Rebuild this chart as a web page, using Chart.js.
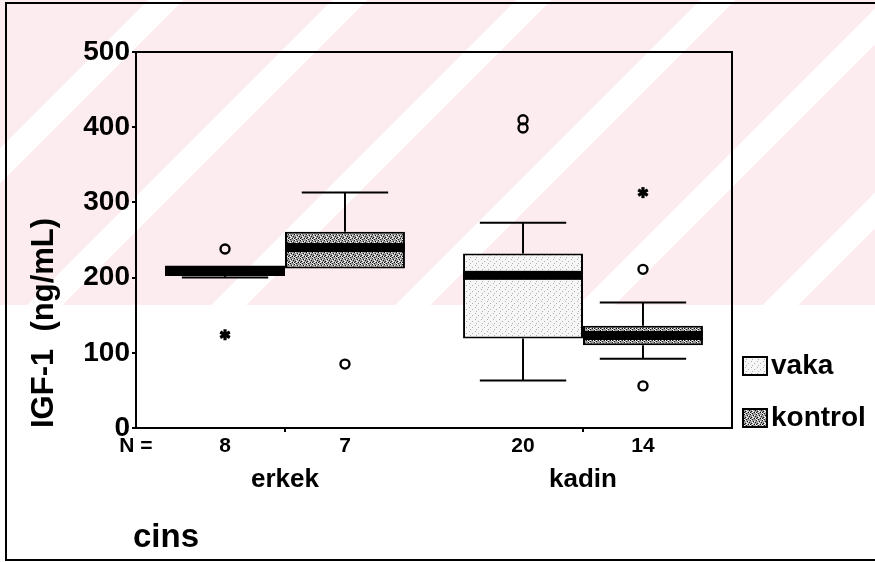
<!DOCTYPE html>
<html>
<head>
<meta charset="utf-8">
<script src="https://cdn.jsdelivr.net/npm/chart.js@4.4.1/dist/chart.umd.min.js"></script>
<style>
  body { margin: 0; background: #fff; }
  #wrap { position: relative; width: 875px; height: 562px; overflow: hidden; }
  #mark { position: absolute; left: 0; top: 0; width: 875px; height: 305px;
    background: repeating-linear-gradient(135deg, #fdecef 0 105px, #ffffff 105px 130px); }
  #frame { position: absolute; left: 5px; top: 2px; width: 900px; height: 559px;
    box-sizing: border-box; border: 2px solid #000; border-right: none; }
  #chart { position: absolute; left: 0; top: 0; }
</style>
</head>
<body>
<div id="wrap">
  <div id="mark"></div>
  <div id="frame"></div>
  <canvas id="chart" width="875" height="562"></canvas>
</div>
<script>
const groups = ['erkek', 'kadin'];
const seriesNames = ['vaka', 'kontrol'];
const yTicks = [0, 100, 200, 300, 400, 500];

// box plot values per group (erkek, kadin)
const vakaN = [8, 20];
const vakaLow = [200, 63];
const vakaQ1 = [202, 119];
const vakaMedian = [209, 203];
const vakaQ3 = [216, 232];
const vakaHigh = [216, 273];
const vakaOutliers = [[238], [399, 410]];
const vakaExtremes = [[124], []];

const kontrolN = [7, 14];
const kontrolLow = [212, 92];
const kontrolQ1 = [212, 110];
const kontrolMedian = [240, 123];
const kontrolQ3 = [261, 136];
const kontrolHigh = [313, 167];
const kontrolOutliers = [[85], [211, 56]];
const kontrolExtremes = [[], [313]];

const series = [
  { n: vakaN, low: vakaLow, q1: vakaQ1, med: vakaMedian, q3: vakaQ3, high: vakaHigh, out: vakaOutliers, ext: vakaExtremes },
  { n: kontrolN, low: kontrolLow, q1: kontrolQ1, med: kontrolMedian, q3: kontrolQ3, high: kontrolHigh, out: kontrolOutliers, ext: kontrolExtremes }
];

const FONT = '"Liberation Sans", Arial, sans-serif';
const canvas = document.getElementById('chart');
const ctx0 = canvas.getContext('2d');

function stipple(base, dot, dots, light, lights) {
  const c = document.createElement('canvas');
  c.width = 6; c.height = 6;
  const g = c.getContext('2d');
  g.fillStyle = base;
  g.fillRect(0, 0, 6, 6);
  g.fillStyle = dot;
  dots.forEach(([x, y]) => g.fillRect(x, y, 1, 1));
  g.fillStyle = light;
  lights.forEach(([x, y]) => g.fillRect(x, y, 1, 1));
  return ctx0.createPattern(c, 'repeat');
}

const vakaFill = stipple('#f6f6f6', '#b0b0b0', [[1, 1], [4, 3], [2, 5]], '#fff', []);
const kontrolFill = stipple('#9c9c9c', '#111', [[0, 0], [3, 1], [1, 3], [4, 4], [5, 2], [2, 5], [0, 4]],
  '#fff', [[1, 0], [4, 1], [2, 2], [5, 4], [0, 5], [3, 3], [2, 4]]);
const fills = [vakaFill, kontrolFill];

function line(ctx, x1, y1, x2, y2) {
  ctx.beginPath();
  ctx.moveTo(x1, y1);
  ctx.lineTo(x2, y2);
  ctx.stroke();
}

function star(ctx, x, y, r) {
  for (let k = 0; k < 3; k++) {
    const a = Math.PI / 2 + k * Math.PI / 3;
    line(ctx, x - r * Math.cos(a), y - r * Math.sin(a), x + r * Math.cos(a), y + r * Math.sin(a));
  }
}

const boxPlugin = {
  id: 'boxes',
  afterDatasetsDraw(chart) {
    const { ctx } = chart;
    const y = chart.scales.y;
    ctx.save();
    ctx.strokeStyle = '#000';
    ctx.fillStyle = '#000';
    series.forEach((s, di) => {
      chart.getDatasetMeta(di).data.forEach((bar, i) => {
        const cx = bar.x;
        const w = bar.width;
        const cap = w * 0.36;
        ctx.lineWidth = 2;
        if (s.high[i] > s.q3[i]) {
          const hy = y.getPixelForValue(s.high[i]);
          line(ctx, cx, y.getPixelForValue(s.q3[i]), cx, hy);
          line(ctx, cx - cap, hy, cx + cap, hy);
        }
        if (s.low[i] < s.q1[i]) {
          const ly = y.getPixelForValue(s.low[i]);
          line(ctx, cx, y.getPixelForValue(s.q1[i]), cx, ly);
          line(ctx, cx - cap, ly, cx + cap, ly);
        }
        const my = y.getPixelForValue(s.med[i]);
        ctx.fillRect(cx - w / 2, my - 4.5, w, 9);

        s.out[i].forEach(v => {
          ctx.lineWidth = 2.4;
          ctx.beginPath();
          ctx.arc(cx, y.getPixelForValue(v), 4.5, 0, Math.PI * 2);
          ctx.stroke();
        });
        s.ext[i].forEach(v => {
          ctx.lineWidth = 3.2;
          star(ctx, cx, y.getPixelForValue(v), 5.5);
        });
      });
    });
    ctx.restore();
  },
  afterDraw(chart) {
    const { ctx, chartArea: a } = chart;
    const x = chart.scales.x;
    ctx.save();
    ctx.strokeStyle = '#000';
    ctx.lineWidth = 2;
    ctx.strokeRect(a.left, a.top, a.right - a.left, a.bottom - a.top);

    ctx.fillStyle = '#000';
    ctx.textBaseline = 'middle';
    ctx.textAlign = 'center';
    ctx.font = 'bold 21px ' + FONT;
    ctx.fillText('N =', a.left, a.bottom + 18);
    series.forEach((s, di) => {
      chart.getDatasetMeta(di).data.forEach((bar, i) => {
        ctx.fillText(String(s.n[i]), bar.x, a.bottom + 18);
      });
    });

    ctx.font = 'bold 26px ' + FONT;
    groups.forEach((g, i) => ctx.fillText(g, x.getPixelForValue(i), a.bottom + 52));

    ctx.textAlign = 'left';
    ctx.font = 'bold 33px ' + FONT;
    ctx.fillText('cins', a.left - 3, a.bottom + 110);

    // legend
    ctx.font = 'bold 28px ' + FONT;
    chart.data.datasets.forEach((ds, i) => {
      const cy = a.bottom - 62 + i * 52;
      ctx.fillStyle = ds.backgroundColor;
      ctx.fillRect(a.left + 607, cy - 9, 24, 18);
      ctx.strokeRect(a.left + 607, cy - 9, 24, 18);
      ctx.fillStyle = '#000';
      ctx.fillText(ds.label, a.left + 635, cy);
    });
    ctx.restore();
  }
};

new Chart(canvas, {
  type: 'bar',
  data: {
    labels: groups,
    datasets: seriesNames.map((name, i) => ({
      label: name,
      data: series[i].q1.map((q, j) => [q, series[i].q3[j]]),
      backgroundColor: fills[i],
      borderColor: '#000',
      borderWidth: 2,
      borderSkipped: false,
      categoryPercentage: 0.805,
      barPercentage: 1
    }))
  },
  options: {
    responsive: false,
    animation: false,
    layout: { padding: { top: 52, right: 143, left: 0, bottom: 0 } },
    plugins: { legend: { display: false }, tooltip: { enabled: false } },
    scales: {
      x: {
        afterFit: s => { s.height = 134; },
        ticks: { display: false },
        grid: { drawOnChartArea: false, offset: false, tickLength: 4, color: '#000', lineWidth: 2 },
        border: { color: '#000', width: 2 }
      },
      y: {
        min: 0,
        max: 500,
        afterFit: s => { s.width = 136; },
        afterBuildTicks: s => { s.ticks = yTicks.map(v => ({ value: v })); },
        ticks: { color: '#000', padding: 2, font: { family: FONT, size: 28, weight: 'bold' } },
        grid: { drawOnChartArea: false, tickLength: 4, color: '#000', lineWidth: 2 },
        border: { color: '#000', width: 2 },
        title: {
          display: true,
          text: 'IGF-1  (ng/mL)',
          align: 'start',
          color: '#000',
          padding: { top: 26 },
          font: { family: FONT, size: 31, weight: 'bold' }
        }
      }
    }
  },
  plugins: [boxPlugin]
});
</script>
</body>
</html>
